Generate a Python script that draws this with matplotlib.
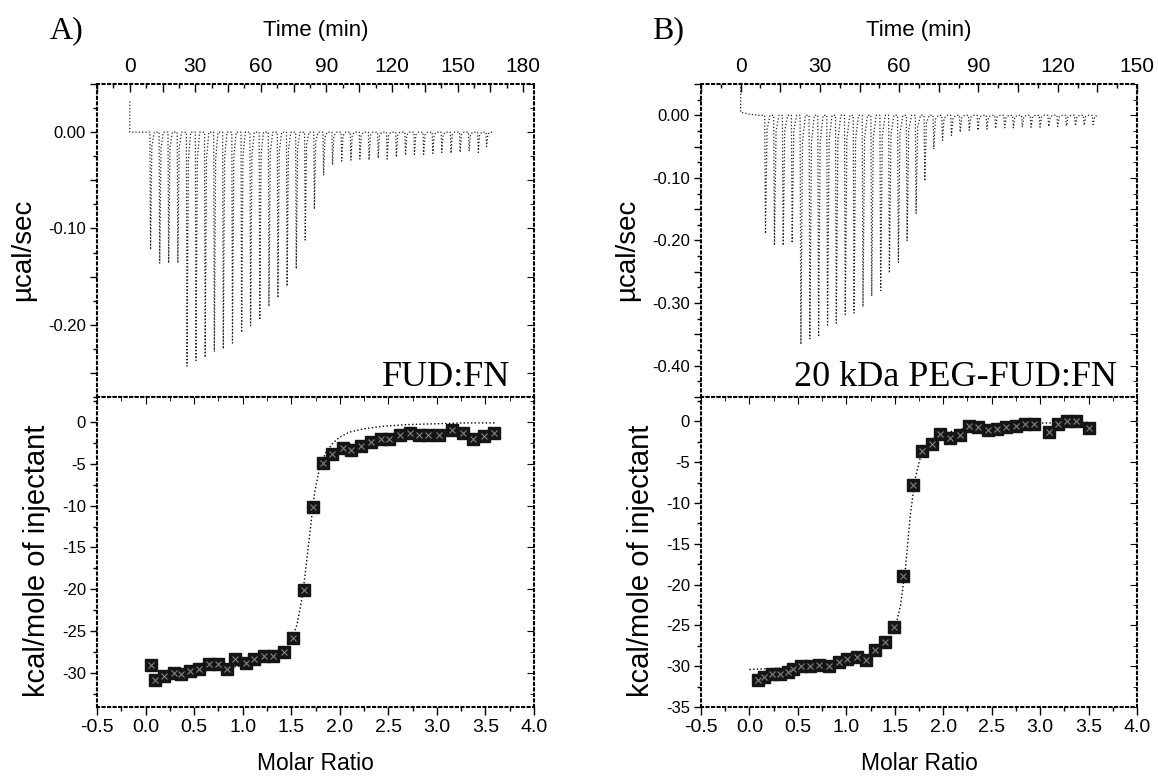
import matplotlib
matplotlib.use('Agg')
import matplotlib.pyplot as plt
from matplotlib.ticker import MultipleLocator, FuncFormatter

plt.rcParams['font.family'] = 'Liberation Sans'
plt.rcParams['axes.unicode_minus'] = False

# ---- panel A: FUD:FN ----
# raw thermogram: injection times (min) and peak heights (ucal/sec)
a_inj_time = [9.2, 13.4, 17.5, 21.7, 25.9, 30.0, 34.2, 38.4, 42.5, 46.7,
              50.9, 55.0, 59.2, 63.4, 67.5, 71.7, 75.9, 80.0, 84.2, 88.4,
              92.5, 96.7, 100.9, 105.0, 109.2, 113.4, 117.5, 121.7, 125.9, 130.0,
              134.2, 138.4, 142.5, 146.7, 150.9, 155.0, 159.2, 163.0]
a_peak = [-0.122, -0.136, -0.136, -0.136, -0.243, -0.237, -0.234, -0.228, -0.225, -0.219,
          -0.208, -0.201, -0.195, -0.181, -0.172, -0.160, -0.142, -0.112, -0.080, -0.045,
          -0.034, -0.030, -0.029, -0.028, -0.029, -0.027, -0.028, -0.026, -0.024, -0.023,
          -0.023, -0.022, -0.021, -0.022, -0.021, -0.020, -0.021, -0.015]
a_start_level = 0.032    # signal before the first point settles
a_settle_level = 0.0
a_end_time = 166.0

# integrated heats
a_ratio = [0.06, 0.10, 0.19, 0.29, 0.37, 0.46, 0.55, 0.65, 0.75, 0.84,
           0.92, 1.03, 1.12, 1.22, 1.31, 1.43, 1.52, 1.63, 1.72, 1.83,
           1.92, 2.03, 2.12, 2.22, 2.32, 2.42, 2.51, 2.62, 2.72, 2.82,
           2.91, 3.02, 3.16, 3.27, 3.37, 3.48, 3.59]
a_heat = [-29.1, -30.9, -30.4, -30.0, -30.2, -29.8, -29.6, -29.0, -29.0, -29.5,
          -28.4, -28.8, -28.4, -28.0, -28.0, -27.5, -25.8, -20.1, -10.2, -4.9,
          -3.8, -3.1, -3.4, -2.9, -2.4, -2.0, -2.0, -1.5, -1.3, -1.5,
          -1.5, -1.5, -1.0, -1.3, -2.0, -1.7, -1.3]
a_fit_x = [0.05, 0.4, 0.8, 1.1, 1.3, 1.42, 1.5, 1.56, 1.62, 1.68, 1.74, 1.80,
           1.86, 1.93, 2.0, 2.1, 2.25, 2.45, 2.7, 3.0, 3.3, 3.6]
a_fit_y = [-30.6, -30.1, -29.5, -29.0, -28.4, -27.6, -26.3, -24.2, -20.5, -14.5, -8.5, -5.0,
           -3.6, -2.5, -1.8, -1.2, -0.8, -0.5, -0.3, -0.2, -0.1, -0.1]

# ---- panel B: 20 kDa PEG-FUD:FN ----
b_inj_time = [9.1, 12.5, 15.8, 19.2, 22.5, 25.9, 29.2, 32.6, 35.9, 39.3,
              42.6, 46.0, 49.3, 52.7, 56.0, 59.4, 62.7, 66.1, 69.4, 72.8,
              76.1, 79.5, 82.8, 86.2, 89.5, 92.9, 96.2, 99.6, 102.9, 106.3,
              109.6, 113.0, 116.3, 119.7, 123.0, 126.4, 129.7, 133.1]
b_peak = [-0.189, -0.208, -0.208, -0.204, -0.366, -0.357, -0.354, -0.335, -0.332, -0.318,
          -0.316, -0.306, -0.289, -0.280, -0.252, -0.235, -0.200, -0.157, -0.105, -0.054,
          -0.040, -0.032, -0.027, -0.024, -0.024, -0.022, -0.021, -0.020, -0.020, -0.019,
          -0.019, -0.019, -0.018, -0.018, -0.017, -0.017, -0.016, -0.015]
b_start_level = 0.045
b_settle_level = 0.005
b_end_time = 135.6

b_ratio = [0.09, 0.15, 0.23, 0.32, 0.40, 0.45, 0.53, 0.63, 0.72, 0.82,
           0.92, 1.01, 1.11, 1.20, 1.30, 1.40, 1.49, 1.59, 1.69, 1.78,
           1.88, 1.97, 2.07, 2.17, 2.27, 2.36, 2.46, 2.56, 2.65, 2.75,
           2.84, 2.94, 3.09, 3.18, 3.28, 3.37, 3.50]
b_heat = [-31.7, -31.3, -30.9, -30.9, -30.7, -30.3, -30.0, -30.0, -29.9, -30.0,
          -29.5, -29.1, -28.9, -29.2, -28.0, -27.0, -25.2, -19.0, -7.8, -3.6,
          -2.8, -1.5, -2.0, -1.7, -0.6, -0.7, -1.0, -0.9, -0.7, -0.6,
          -0.3, -0.3, -1.3, -0.3, 0.1, 0.1, -0.8]
b_fit_x = [0.0, 0.4, 0.8, 1.1, 1.3, 1.42, 1.50, 1.56, 1.61, 1.66, 1.71, 1.76,
           1.82, 1.9, 2.0, 2.15, 2.3, 2.6, 3.0, 3.5]
b_fit_y = [-30.4, -30.2, -29.8, -29.3, -28.5, -27.4, -25.6, -22.5, -18.0, -11.5, -7.0, -4.6,
           -3.2, -2.1, -1.5, -1.0, -0.7, -0.4, -0.2, -0.1]


def thermogram(times, peaks, start_level, settle_level, end_time):
    # baseline drop at t=0, then one narrow dip per injection
    t = [0.0, 0.0, 3.0, 7.0]
    y = [start_level, settle_level, settle_level * 0.4, 0.0]
    for ti, pk in zip(times, peaks):
        t += [ti, ti + 0.3, ti + 0.9, ti + 2.0]
        y += [0.0, pk, pk * 0.12, 0.0]
    t.append(end_time)
    y.append(0.0)
    return t, y


def dotted_frame(ax):
    for s in ax.spines.values():
        s.set_linestyle(':')
        s.set_linewidth(1.5)


def fmt_time(v, p):
    return "%d" % v if abs(v % 30) < 1e-6 else ""


def fmt_y(v, p):
    return "%.2f" % (round(v, 2) + 0.0) if abs(round(v * 100) % 10) < 1e-6 else ""


W, H = 1158.0, 776.0
fig = plt.figure(figsize=(11.58, 7.76), dpi=100)

panels = [
    dict(left=97, right=534, xlim=(-15, 185), ylim=(-0.275, 0.05), ylim2=(-34.1, 3),
         times=a_inj_time, peaks=a_peak, start=a_start_level, settle=a_settle_level,
         end=a_end_time, rx=a_ratio, ry=a_heat, fx=a_fit_x, fy=a_fit_y,
         name='FUD:FN', tag='A)', tag_x=50, name_x=0.947),
    dict(left=701, right=1137, xlim=(-15, 150), ylim=(-0.45, 0.05), ylim2=(-35, 3),
         times=b_inj_time, peaks=b_peak, start=b_start_level, settle=b_settle_level,
         end=b_end_time, rx=b_ratio, ry=b_heat, fx=b_fit_x, fy=b_fit_y,
         name='20 kDa PEG-FUD:FN', tag='B)', tag_x=652, name_x=0.954),
]

top_px, mid_px, bot_px = 84, 397, 707

for p in panels:
    l = p['left'] / W
    w = (p['right'] - p['left']) / W
    ax1 = fig.add_axes([l, 1 - mid_px / H, w, (mid_px - top_px) / H])
    ax2 = fig.add_axes([l, 1 - bot_px / H, w, (bot_px - mid_px) / H])

    # --- raw data ---
    t, y = thermogram(p['times'], p['peaks'], p['start'], p['settle'], p['end'])
    ax1.plot(t, y, ':', color='#222222', lw=0.9)
    ax1.set_xlim(*p['xlim'])
    ax1.set_ylim(*p['ylim'])
    ax1.xaxis.tick_top()
    ax1.xaxis.set_label_position('top')
    ax1.xaxis.set_major_locator(MultipleLocator(15))
    ax1.xaxis.set_minor_locator(MultipleLocator(7.5))
    ax1.xaxis.set_major_formatter(FuncFormatter(fmt_time))
    ax1.tick_params(axis='x', which='both', direction='in', top=True, bottom=False,
                    labelsize=15, pad=6)
    ax1.tick_params(axis='x', which='major', length=6, width=1)
    ax1.tick_params(axis='x', which='minor', length=3, width=1)
    ax1.yaxis.set_major_locator(MultipleLocator(0.05))
    ax1.yaxis.set_minor_locator(MultipleLocator(0.025))
    ax1.yaxis.set_major_formatter(FuncFormatter(fmt_y))
    ax1.tick_params(axis='y', which='both', direction='out', left=True, right=False,
                    labelsize=12, pad=3)
    ax1.tick_params(axis='y', which='major', length=5, width=1)
    ax1.tick_params(axis='y', which='minor', length=3, width=1)
    sy = ax1.secondary_yaxis('right')
    sy.yaxis.set_major_locator(MultipleLocator(0.05))
    sy.yaxis.set_minor_locator(MultipleLocator(0.025))
    sy.tick_params(axis='y', which='both', direction='in', labelright=False)
    sy.tick_params(axis='y', which='major', length=5)
    sy.tick_params(axis='y', which='minor', length=3)
    for s in sy.spines.values():
        s.set_visible(False)
    ax1.set_xlabel('Time (min)', fontsize=16, labelpad=15)
    ax1.set_ylabel('\u00b5cal/sec', fontsize=20)
    ax1.yaxis.set_label_coords(-0.14, 0.47)
    ax1.text(p['name_x'], 0.035, p['name'], transform=ax1.transAxes, ha='right',
             va='baseline', fontsize=26, family='Liberation Serif')
    dotted_frame(ax1)

    # --- integrated heats ---
    ax2.plot(p['fx'], p['fy'], ':', color='black', lw=1.0)
    ax2.plot(p['rx'], p['ry'], 's', ms=8, color='#151515', mec='#151515')
    ax2.plot(p['rx'], p['ry'], 'x', ms=5, color='#808080', mew=0.8)
    ax2.set_xlim(-0.5, 4.0)
    ax2.set_ylim(*p['ylim2'])
    ax2.xaxis.set_major_locator(MultipleLocator(0.5))
    ax2.xaxis.set_minor_locator(MultipleLocator(0.25))
    ax2.xaxis.set_major_formatter(FuncFormatter(lambda v, q: "%.1f" % (round(v, 1) + 0.0)))
    ax2.yaxis.set_major_locator(MultipleLocator(5))
    ax2.yaxis.set_minor_locator(MultipleLocator(2.5))
    ax2.yaxis.set_major_formatter(FuncFormatter(lambda v, q: "%d" % round(v)))
    ax2.tick_params(axis='both', which='both', direction='out', top=False, right=False)
    ax2.tick_params(axis='x', which='major', length=5.5, width=1, labelsize=14, pad=3)
    ax2.tick_params(axis='y', which='major', length=5, width=1, labelsize=12, pad=3)
    ax2.tick_params(axis='both', which='minor', length=3, width=1)
    sx = ax2.secondary_xaxis('top')
    sx.xaxis.set_major_locator(MultipleLocator(0.5))
    sx.xaxis.set_minor_locator(MultipleLocator(0.25))
    sx.tick_params(axis='x', which='both', direction='in', labeltop=False)
    sx.tick_params(axis='x', which='major', length=5)
    sx.tick_params(axis='x', which='minor', length=3)
    sy2 = ax2.secondary_yaxis('right')
    sy2.yaxis.set_major_locator(MultipleLocator(5))
    sy2.yaxis.set_minor_locator(MultipleLocator(2.5))
    sy2.tick_params(axis='y', which='both', direction='in', labelright=False)
    sy2.tick_params(axis='y', which='major', length=5)
    sy2.tick_params(axis='y', which='minor', length=3)
    for s in list(sx.spines.values()) + list(sy2.spines.values()):
        s.set_visible(False)
    ax2.set_xlabel('Molar Ratio', fontsize=16.5, labelpad=12)
    ax2.set_ylabel('kcal/mole of injectant', fontsize=21)
    ax2.yaxis.set_label_coords(-0.105, 0.47)
    dotted_frame(ax2)

    fig.text(p['tag_x'] / W, 1 - 38 / H, p['tag'], fontsize=23,
             family='Liberation Serif', va='baseline')

fig.savefig('out.png', dpi=100)
